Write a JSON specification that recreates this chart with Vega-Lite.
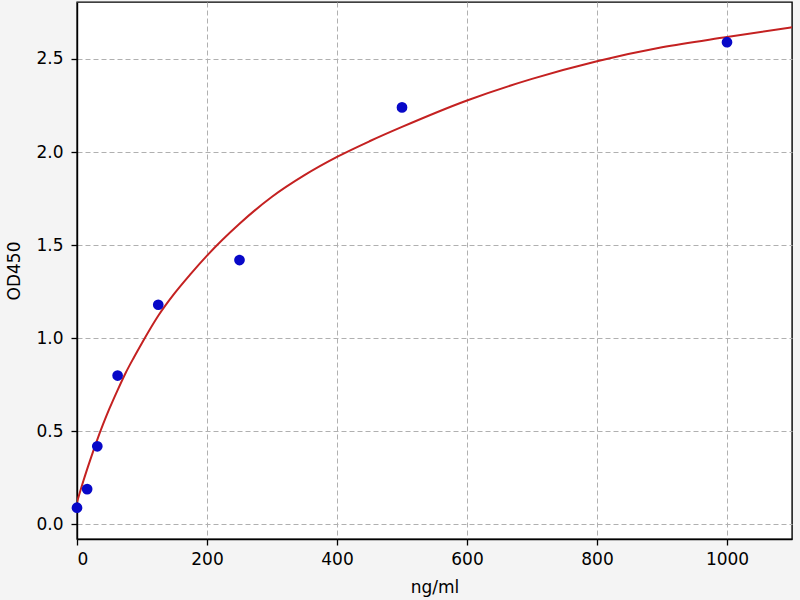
{
  "$schema": "https://vega.github.io/schema/vega-lite/v6.json",
  "width": 715,
  "height": 537,
  "autosize": {"type": "none"},
  "padding": {"left": 77, "top": 2, "right": 8, "bottom": 61},
  "background": "#f4f4f4",
  "config": {
    "font": "DejaVu Sans",
    "view": {"fill": "white", "stroke": "black", "strokeWidth": 1.4},
    "axis": {
      "domain": true,
      "domainColor": "black",
      "domainWidth": 1.4,
      "labelFontSize": 17,
      "titleFontSize": 17,
      "titleFontWeight": "normal",
      "labelColor": "black",
      "titleColor": "black",
      "tickColor": "black",
      "tickSize": 6,
      "tickWidth": 1.3,
      "gridColor": "#b0b0b0",
      "gridDash": [5, 3],
      "gridWidth": 1
    }
  },
  "datasets": {
    "curve": [
      {"conc": 0, "od": 0.12},
      {"conc": 10, "od": 0.236},
      {"conc": 20, "od": 0.343},
      {"conc": 30, "od": 0.444},
      {"conc": 40, "od": 0.537},
      {"conc": 50, "od": 0.623},
      {"conc": 62.5, "od": 0.722},
      {"conc": 75, "od": 0.815},
      {"conc": 87.5, "od": 0.897},
      {"conc": 100, "od": 0.975},
      {"conc": 125, "od": 1.121},
      {"conc": 150, "od": 1.241},
      {"conc": 175, "od": 1.346},
      {"conc": 200, "od": 1.444},
      {"conc": 250, "od": 1.615},
      {"conc": 300, "od": 1.76},
      {"conc": 350, "od": 1.876},
      {"conc": 400, "od": 1.974},
      {"conc": 450, "od": 2.058},
      {"conc": 500, "od": 2.135},
      {"conc": 600, "od": 2.277},
      {"conc": 700, "od": 2.393},
      {"conc": 800, "od": 2.488},
      {"conc": 900, "od": 2.563},
      {"conc": 1000, "od": 2.618},
      {"conc": 1100, "od": 2.67}
    ],
    "standards": [
      {"conc": 0, "od": 0.09},
      {"conc": 15.6, "od": 0.19},
      {"conc": 31.25, "od": 0.42},
      {"conc": 62.5, "od": 0.8},
      {"conc": 125, "od": 1.18},
      {"conc": 250, "od": 1.42},
      {"conc": 500, "od": 2.24},
      {"conc": 1000, "od": 2.59}
    ]
  },
  "encoding": {
    "x": {
      "field": "conc",
      "type": "quantitative",
      "title": "ng/ml",
      "scale": {"domain": [0, 1100], "nice": false, "zero": false},
      "axis": {"values": [0, 200, 400, 600, 800, 1000], "labelPadding": 6, "titlePadding": 12, "format": "d"}
    },
    "y": {
      "field": "od",
      "type": "quantitative",
      "title": "OD450",
      "scale": {"domain": [-0.078, 2.806], "nice": false, "zero": false},
      "axis": {"values": [0, 0.5, 1, 1.5, 2, 2.5], "labelPadding": 8, "titlePadding": 12, "format": ".1f"}
    }
  },
  "layer": [
    {
      "data": {"name": "curve"},
      "mark": {"type": "line", "color": "#c42121", "strokeWidth": 2, "interpolate": "monotone", "clip": true}
    },
    {
      "data": {"name": "standards"},
      "mark": {"type": "point", "filled": true, "color": "#0808c8", "opacity": 1, "size": 115}
    }
  ]
}
